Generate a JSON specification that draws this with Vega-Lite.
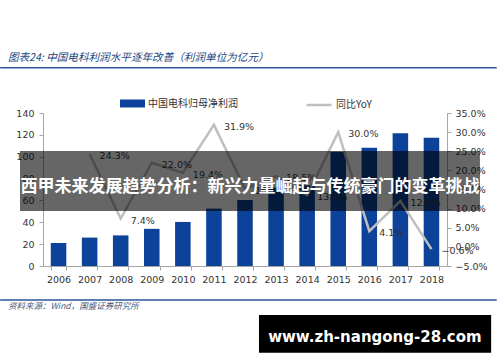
{
  "$schema": "https://vega.github.io/schema/vega-lite/v6.json",
  "width": 404,
  "height": 153,
  "autosize": {"type": "none"},
  "padding": {"left": 43, "top": 113, "right": 53, "bottom": 96},
  "background": "white",
  "config": {"view": {"stroke": null}, "font": "DejaVu Sans"},
  "datasets": {
    "main": [
      {"year": "2006", "profit": 21.0, "yoy": null},
      {"year": "2007", "profit": 26.0, "yoy": 0.243},
      {"year": "2008", "profit": 28.0, "yoy": 0.074},
      {"year": "2009", "profit": 34.0, "yoy": 0.220},
      {"year": "2010", "profit": 40.3, "yoy": 0.194},
      {"year": "2011", "profit": 52.5, "yoy": 0.319},
      {"year": "2012", "profit": 60.5, "yoy": 0.152},
      {"year": "2013", "profit": 71.5, "yoy": 0.185},
      {"year": "2014", "profit": 74.0, "yoy": 0.135},
      {"year": "2015", "profit": 104.5, "yoy": 0.300},
      {"year": "2016", "profit": 108.3, "yoy": 0.041},
      {"year": "2017", "profit": 121.4, "yoy": 0.120},
      {"year": "2018", "profit": 117.4, "yoy": -0.006}
    ],
    "texts": [
      {"kind": "title", "x": 2004.37, "y": 190.6, "text": "图表24: 中国电科利润水平逐年改善（利润单位为亿元）"},
      {"kind": "source", "x": 2004.37, "y": -36.6, "text": "资料来源：Wind，国盛证券研究所"}
    ],
    "rules": [
      {"x": 2004.12, "x2": 2020.1, "y": 181.4},
      {"x": 2004.12, "x2": 2020.1, "y": -31.1}
    ],
    "banner": [
      {"x": 2004.76, "x2": 2019.56, "y": 105.2, "y2": 50.3, "tx": 2012.16, "ty": 72.5, "text": "西甲未来发展趋势分析：新兴力量崛起与传统豪门的变革挑战"}
    ],
    "watermark": [
      {"x": 2012.45, "x2": 2019.92, "y": -44.8, "y2": -79.3, "tx": 2016.18, "ty": -64.7, "text": "www.zh-nangong-28.com"}
    ]
  },
  "layer": [
    {
      "layer": [
        {
          "data": {"name": "main"},
          "mark": {"type": "bar"},
          "encoding": {
            "x": {
              "field": "year", "type": "ordinal",
              "scale": {"paddingInner": 0.5, "paddingOuter": 0.25},
              "axis": {"title": null, "labelAngle": 0, "tickBand": "extent", "tickSize": 4,
                       "domainColor": "#a6a6a6", "tickColor": "#a6a6a6", "labelColor": "#333333",
                       "labelFontSize": 9.5, "labelFont": "DejaVu Sans", "labelPadding": 4}
            },
            "y": {
              "field": "profit", "type": "quantitative",
              "scale": {"domain": [0, 140], "nice": false},
              "axis": {"title": null, "orient": "left", "values": [0, 20, 40, 60, 80, 100, 120, 140],
                       "grid": false, "tickSize": 4, "domainColor": "#a6a6a6", "tickColor": "#a6a6a6",
                       "labelColor": "#333333", "labelFontSize": 9.5, "labelFont": "DejaVu Sans", "labelPadding": 5}
            },
            "fill": {
              "datum": "中国电科归母净利润",
              "scale": {"range": ["#0c4299"]},
              "legend": {"title": null, "orient": "none", "legendX": 77, "legendY": -22,
                         "symbolType": "M-1,-0.32H1V0.32H-1Z", "symbolSize": 625, "symbolStrokeWidth": 0,
                         "labelFont": "Noto Sans CJK SC", "labelFontSize": 10, "labelColor": "#333333", "labelOffset": 3}
            }
          }
        },
        {
          "data": {"name": "main"},
          "transform": [{"filter": "datum.yoy != null"}],
          "encoding": {
            "x": {"field": "year", "type": "ordinal"},
            "y": {
              "field": "yoy", "type": "quantitative",
              "scale": {"domain": [-0.05, 0.35], "nice": false, "zero": false},
              "axis": {"title": null, "orient": "right", "format": ".1%",
                       "values": [-0.05, 0, 0.05, 0.1, 0.15, 0.2, 0.25, 0.3, 0.35],
                       "grid": false, "tickSize": 4, "domainColor": "#a6a6a6", "tickColor": "#a6a6a6",
                       "labelColor": "#333333", "labelFontSize": 9.5, "labelFont": "DejaVu Sans", "labelPadding": 4}
            }
          },
          "layer": [
            {
              "mark": {"type": "line", "strokeWidth": 2.5},
              "encoding": {
                "stroke": {
                  "datum": "同比YoY",
                  "scale": {"range": ["#bfbfbf"]},
                  "legend": {"title": null, "orient": "none", "legendX": 262, "legendY": -22,
                             "symbolType": "stroke", "symbolSize": 625, "symbolStrokeWidth": 2.5,
                             "labelFont": "Noto Sans CJK SC", "labelFontSize": 10, "labelColor": "#333333", "labelOffset": 3}
                }
              }
            },
            {
              "mark": {"type": "text", "align": "left", "baseline": "middle", "dx": 10, "dy": 2,
                       "fontSize": 9.5, "font": "DejaVu Sans", "color": "#333333"},
              "encoding": {
                "text": {"field": "yoy", "type": "quantitative", "format": ".1%"}
              }
            }
          ]
        }
      ],
      "resolve": {"scale": {"y": "independent"}}
    },
    {
      "data": {"name": "rules"},
      "mark": {"type": "rule", "color": "#2a5599", "strokeWidth": 1.6},
      "encoding": {
        "x": {"field": "x", "type": "quantitative", "scale": {"domain": [2005.5, 2018.5], "nice": false, "zero": false}, "axis": null},
        "x2": {"field": "x2"},
        "y": {"field": "y", "type": "quantitative", "scale": {"domain": [0, 140], "nice": false, "zero": false}, "axis": null}
      }
    },
    {
      "data": {"name": "texts"},
      "mark": {"type": "text", "align": "left", "baseline": "middle", "font": "Noto Sans CJK SC", "fontStyle": "italic"},
      "encoding": {
        "x": {"field": "x", "type": "quantitative", "scale": {"domain": [2005.5, 2018.5], "nice": false, "zero": false}, "axis": null},
        "y": {"field": "y", "type": "quantitative", "scale": {"domain": [0, 140], "nice": false, "zero": false}, "axis": null},
        "text": {"field": "text"},
        "size": {"field": "kind", "type": "nominal", "scale": {"domain": ["title", "source"], "range": [10.6, 8.5]}, "legend": null},
        "color": {"field": "kind", "type": "nominal", "scale": {"domain": ["title", "source"], "range": ["#23467f", "#4a5a78"]}, "legend": null}
      }
    },
    {
      "data": {"name": "banner"},
      "layer": [
        {
          "mark": {"type": "rect", "color": "#000000", "opacity": 0.6},
          "encoding": {
            "x": {"field": "x", "type": "quantitative", "scale": {"domain": [2005.5, 2018.5], "nice": false, "zero": false}, "axis": null},
            "x2": {"field": "x2"},
            "y": {"field": "y", "type": "quantitative", "scale": {"domain": [0, 140], "nice": false, "zero": false}, "axis": null},
            "y2": {"field": "y2"}
          }
        },
        {
          "mark": {"type": "text", "align": "center", "baseline": "middle", "font": "Noto Sans CJK SC",
                   "fontWeight": "bold", "fontSize": 17, "color": "#ffffff"},
          "encoding": {
            "x": {"field": "tx", "type": "quantitative", "scale": {"domain": [2005.5, 2018.5], "nice": false, "zero": false}, "axis": null},
            "y": {"field": "ty", "type": "quantitative", "scale": {"domain": [0, 140], "nice": false, "zero": false}, "axis": null},
            "text": {"field": "text"}
          }
        }
      ]
    },
    {
      "data": {"name": "watermark"},
      "layer": [
        {
          "mark": {"type": "rect", "color": "#000000"},
          "encoding": {
            "x": {"field": "x", "type": "quantitative", "scale": {"domain": [2005.5, 2018.5], "nice": false, "zero": false}, "axis": null},
            "x2": {"field": "x2"},
            "y": {"field": "y", "type": "quantitative", "scale": {"domain": [0, 140], "nice": false, "zero": false}, "axis": null},
            "y2": {"field": "y2"}
          }
        },
        {
          "mark": {"type": "text", "align": "center", "baseline": "middle", "font": "DejaVu Sans",
                   "fontWeight": "bold", "fontSize": 15, "color": "#ffffff"},
          "encoding": {
            "x": {"field": "tx", "type": "quantitative", "scale": {"domain": [2005.5, 2018.5], "nice": false, "zero": false}, "axis": null},
            "y": {"field": "ty", "type": "quantitative", "scale": {"domain": [0, 140], "nice": false, "zero": false}, "axis": null},
            "text": {"field": "text"}
          }
        }
      ]
    }
  ],
  "resolve": {"scale": {"x": "independent", "y": "independent"}}
}
